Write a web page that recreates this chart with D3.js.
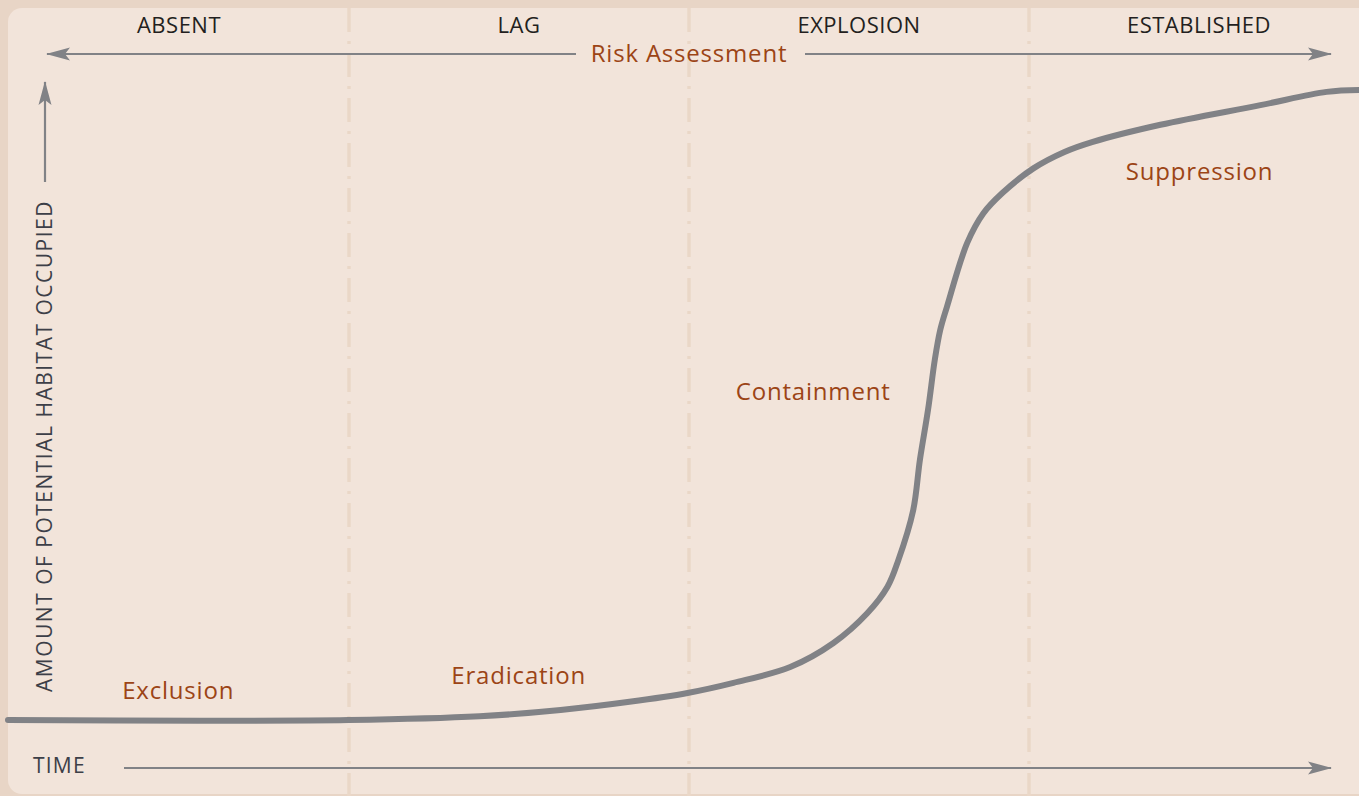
<!DOCTYPE html>
<html>
<head>
<meta charset="utf-8">
<script src="https://cdn.jsdelivr.net/npm/d3@7"></script>
<style>
  body { margin: 0; background: #e8d5c6; }
  svg { display: block; }
  text { font-family: "Open Sans", "DejaVu Sans", sans-serif; }
</style>
</head>
<body>
<div id="chart"></div>
<script>
// phases across the top
var phases = ["ABSENT", "LAG", "EXPLOSION", "ESTABLISHED"];
var actions = ["Exclusion", "Eradication", "Containment", "Suppression"];

// invasion curve: time (0-100) vs habitat occupied (0-100)
var time = [0, 14.2, 25.2, 34.9, 40.9, 46.0, 50.3, 53.7, 57.9, 61.1, 63.6, 65.1, 65.9, 67.0, 67.5, 68.1, 68.6, 69.0, 69.5, 71.0, 72.2, 73.6, 75.9, 78.2, 80.3, 85.3, 92.7, 97.6, 100];
var habitat = [0.3, 0.2, 0.3, 0.9, 1.9, 3.2, 4.6, 6.2, 8.7, 12.5, 17.2, 21.4, 25.6, 33.5, 41.5, 49.4, 57.3, 62.0, 65.7, 75.8, 80.5, 83.7, 87.6, 90.2, 91.8, 94.5, 97.6, 99.7, 100];

// where each action label sits (time, habitat)
var actionT = [12.6, 37.8, 59.6, 88.2];
var actionH = [3.7, 6.0, 51.0, 85.8];

var W = 1359, H = 796;
var svg = d3.select("#chart").append("svg").attr("width", W).attr("height", H);

var x = d3.scaleLinear().domain([0, 100]).range([8, 1359]);
var y = d3.scaleLinear().domain([0, 100]).range([722, 90]);
var phaseX = d3.scaleBand().domain(phases).range([9, 1369]);

var grey = "#818286";
var rust = "#9c4416";

// panel
svg.append("rect")
    .attr("x", 8).attr("y", 8)
    .attr("width", W + 20).attr("height", H - 10)
    .attr("rx", 14)
    .attr("fill", "#f2e4da");

// dash-dot dividers between phases
svg.selectAll(".divider")
    .data(phases.slice(1))
    .enter().append("line")
    .attr("class", "divider")
    .attr("x1", function (d) { return phaseX(d); })
    .attr("x2", function (d) { return phaseX(d); })
    .attr("y1", 8).attr("y2", H)
    .attr("stroke", "#ead7c7")
    .attr("stroke-width", 3.5)
    .attr("stroke-dasharray", "24,9,3,9");

// arrow marker
var defs = svg.append("defs");
defs.append("marker")
    .attr("id", "arrow")
    .attr("viewBox", "0 0 24 14")
    .attr("refX", 23).attr("refY", 7)
    .attr("markerWidth", 24).attr("markerHeight", 14)
    .attr("markerUnits", "userSpaceOnUse")
    .attr("orient", "auto-start-reverse")
    .append("path")
    .attr("d", "M0,0.5 L24,7 L0,13.5 L5,7 Z")
    .attr("fill", grey);

// phase labels
svg.selectAll(".phase")
    .data(phases)
    .enter().append("text")
    .attr("class", "phase")
    .attr("x", function (d) { return phaseX(d) + phaseX.bandwidth() / 2; })
    .attr("y", 33)
    .attr("text-anchor", "middle")
    .attr("font-size", 22)
    .attr("letter-spacing", 0.5)
    .attr("fill", "#231f20")
    .text(function (d) { return d; });

// risk assessment double arrow
svg.append("line")
    .attr("x1", 576).attr("x2", 47).attr("y1", 54).attr("y2", 54)
    .attr("stroke", grey).attr("stroke-width", 2.2)
    .attr("marker-end", "url(#arrow)");
svg.append("line")
    .attr("x1", 805).attr("x2", 1331).attr("y1", 54).attr("y2", 54)
    .attr("stroke", grey).attr("stroke-width", 2.2)
    .attr("marker-end", "url(#arrow)");
svg.append("text")
    .attr("x", 689).attr("y", 62)
    .attr("text-anchor", "middle")
    .attr("font-size", 24)
    .attr("letter-spacing", 0.8)
    .attr("fill", rust)
    .text("Risk Assessment");

// y axis arrow + label
svg.append("line")
    .attr("x1", 45).attr("x2", 45).attr("y1", 182).attr("y2", 82)
    .attr("stroke", grey).attr("stroke-width", 2.2)
    .attr("marker-end", "url(#arrow)");
svg.append("text")
    .attr("transform", "translate(52,446) rotate(-90)")
    .attr("text-anchor", "middle")
    .attr("font-size", 21)
    .attr("letter-spacing", 1.5)
    .attr("fill", "#3d3f48")
    .text("AMOUNT OF POTENTIAL HABITAT OCCUPIED");

// time arrow + label
svg.append("text")
    .attr("x", 33).attr("y", 773)
    .attr("font-size", 21)
    .attr("letter-spacing", 1.2)
    .attr("fill", "#3d3f48")
    .text("TIME");
svg.append("line")
    .attr("x1", 124).attr("x2", 1331).attr("y1", 768).attr("y2", 768)
    .attr("stroke", grey).attr("stroke-width", 2.2)
    .attr("marker-end", "url(#arrow)");

// the curve
var pts = time.map(function (t, i) { return [t, habitat[i]]; });
var line = d3.line()
    .x(function (d) { return x(d[0]); })
    .y(function (d) { return y(d[1]); })
    .curve(d3.curveCatmullRom.alpha(0.5));
svg.append("path")
    .datum(pts)
    .attr("d", line)
    .attr("fill", "none")
    .attr("stroke", grey)
    .attr("stroke-width", 6)
    .attr("stroke-linecap", "round");

// action labels
svg.selectAll(".action")
    .data(actions)
    .enter().append("text")
    .attr("class", "action")
    .attr("x", function (d, i) { return x(actionT[i]); })
    .attr("y", function (d, i) { return y(actionH[i]); })
    .attr("text-anchor", "middle")
    .attr("font-size", 24)
    .attr("letter-spacing", 0.8)
    .attr("fill", rust)
    .text(function (d) { return d; });
</script>
</body>
</html>
